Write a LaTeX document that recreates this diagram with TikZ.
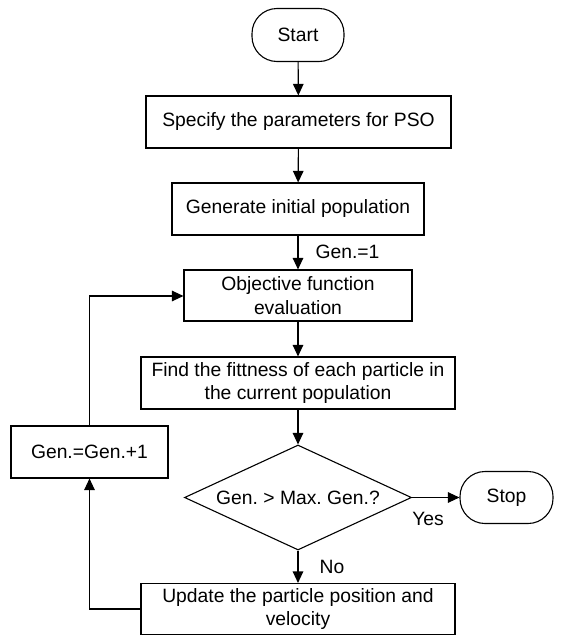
\documentclass[tikz,border=0pt]{standalone}
\usepackage{fontspec}
\setmainfont{Liberation Sans}
\frenchspacing
\usetikzlibrary{arrows.meta,shapes.geometric}
\begin{document}
\begin{tikzpicture}[x=1pt,y=-1pt,
  every node/.style={font=\fontsize{19.3}{23.5}\selectfont, inner sep=0pt, line width=1.1pt},
  proc/.style={draw, rectangle, align=center},
  term/.style={draw, rectangle, rounded corners=25pt},
  conn/.style={line width=1.1pt, -{Triangle[length=11.5pt,width=10.5pt]}}]
\useasboundingbox (0,0) rectangle (560,635);
\node[term, minimum width=92pt, minimum height=53pt] (start) at (298,35) {Start};
\node[proc, minimum width=305pt, minimum height=52pt] (b1) at (298.5,122) {Specify the parameters for PSO};
\node[proc, minimum width=252pt, minimum height=52pt] (b2) at (298,209) {Generate initial population};
\node[proc, minimum width=228pt, minimum height=51pt] (b3) at (298,295.5) {Objective function\\evaluation};
\node[proc, minimum width=314pt, minimum height=52pt] (b4) at (298,383) {Find the fittness of each particle in\\the current population};
\node[draw, diamond, shape aspect=2.16, minimum width=227pt, minimum height=105pt] (dia) at (298,497.5) {Gen. > Max. Gen.?};
\node[term, minimum width=93pt, minimum height=52pt] (stop) at (506.5,497.5) {Stop};
\node[proc, minimum width=314pt, minimum height=51pt] (b5) at (298,609) {Update the particle position and\\velocity};
\node[proc, minimum width=157pt, minimum height=52pt] (gen) at (89.5,452) {Gen.=Gen.+1};
\node[anchor=west] (l1) at (315,252) {Gen.=1};
\node (lyes) at (428,519) {Yes};
\node (lno) at (332,567) {No};
\coordinate (c1) at (89.5,609);
\coordinate (c2) at (89.5,296);
\draw[conn] (start) -- (b1);
\draw[conn] (b1) -- (b2);
\draw[conn] (b2) -- (b3);
\draw[conn] (b3) -- (b4);
\draw[conn] (b4) -- (dia);
\draw[conn] (dia) -- (b5);
\draw[conn] (dia.east) -- (stop.west);
\draw[conn] (b5.west) -- (c1) -- (gen.south);
\draw[conn] (gen.north) -- (c2) -- (b3.west |- c2);
\end{tikzpicture}
\end{document}
